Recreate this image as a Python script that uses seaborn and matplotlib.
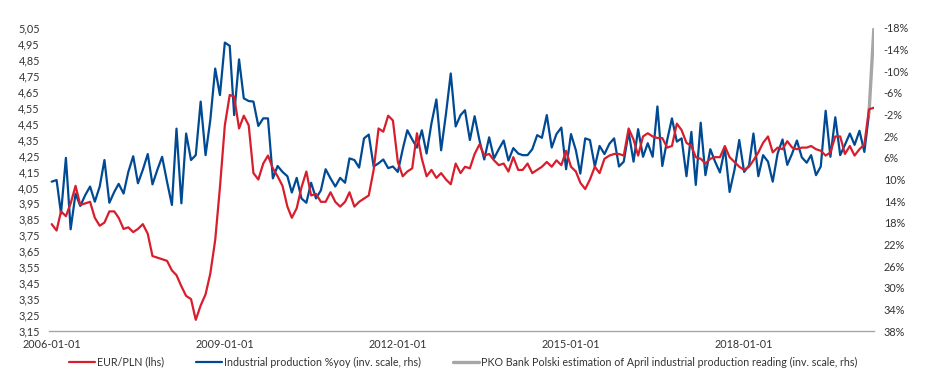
import numpy as np
import pandas as pd
import matplotlib
matplotlib.use("Agg")
import matplotlib.pyplot as plt
import matplotlib.ticker as mticker
import matplotlib.dates as mdates
import seaborn as sns

# EUR/PLN, monthly, 2006-01 .. 2020-04 (lhs)
eurpln = [
    3.82, 3.78, 3.90, 3.87, 3.95, 4.06, 3.94, 3.95, 3.96, 3.86, 3.81, 3.83,
    3.90, 3.90, 3.86, 3.79, 3.80, 3.77, 3.79, 3.82, 3.76, 3.62, 3.61, 3.60,
    3.59, 3.53, 3.50, 3.43, 3.37, 3.35, 3.22, 3.31, 3.38, 3.51, 3.72, 4.05,
    4.44, 4.63, 4.62, 4.42, 4.50, 4.44, 4.14, 4.10, 4.20, 4.25, 4.17, 4.12,
    4.06, 3.93, 3.86, 3.92, 4.05, 4.15, 4.00, 4.01, 3.96, 3.96, 4.02, 3.96,
    3.93, 3.96, 4.02, 3.93, 3.96, 3.98, 4.00, 4.16, 4.42, 4.40, 4.50, 4.47,
    4.21, 4.12, 4.15, 4.17, 4.39, 4.23, 4.12, 4.16, 4.11, 4.14, 4.10, 4.07,
    4.20, 4.14, 4.18, 4.17, 4.26, 4.32, 4.25, 4.26, 4.22, 4.19, 4.20, 4.15,
    4.24, 4.16, 4.16, 4.20, 4.14, 4.16, 4.18, 4.21, 4.18, 4.22, 4.19, 4.28,
    4.18, 4.15, 4.08, 4.04, 4.10, 4.18, 4.14, 4.23, 4.25, 4.26, 4.26, 4.25,
    4.42, 4.35, 4.25, 4.37, 4.39, 4.37, 4.36, 4.36, 4.30, 4.31, 4.45, 4.41,
    4.33, 4.31, 4.24, 4.23, 4.20, 4.23, 4.24, 4.24, 4.31, 4.24, 4.21, 4.18,
    4.16, 4.18, 4.22, 4.27, 4.33, 4.37, 4.27, 4.30, 4.29, 4.34, 4.30, 4.29,
    4.30, 4.30, 4.31, 4.29, 4.28, 4.25, 4.27, 4.37, 4.37, 4.26, 4.31, 4.25,
    4.29, 4.32, 4.54, 4.55,
]

# Industrial production %yoy, 2006-01 .. 2020-03 (rhs, inverted)
ip_yoy = [
    10.4, 10.1, 16.3, 6.0, 19.2, 12.6, 14.9, 12.9, 11.3, 14.1, 11.3, 6.4,
    14.3, 12.3, 10.8, 12.6, 8.6, 5.7, 10.7, 8.2, 5.3, 10.9, 8.2, 5.8,
    10.4, 14.7, 0.6, 14.4, 1.5, 6.4, 5.5, -4.4, 5.5, -1.0, -10.5, -5.6,
    -15.3, -14.7, -1.9, -12.2, -5.0, -4.5, -4.4, 0.1, -1.3, -1.3, 9.8, 7.5,
    8.6, 9.4, 12.4, 9.7, 13.5, 14.3, 10.6, 13.5, 12.0, 8.1, 9.8, 11.3,
    9.7, 10.6, 6.1, 6.4, 7.8, 2.4, 1.7, 7.6, 7.0, 6.3, 7.9, 7.6,
    8.6, 4.4, 0.9, 2.6, 4.1, 0.9, 5.2, -0.4, -4.8, 4.6, -2.2, -9.6,
    0.2, -1.9, -2.8, 2.7, -1.7, 2.8, 6.3, 2.2, 6.1, 4.4, 2.8, 6.5,
    4.2, 5.2, 5.5, 5.5, 4.4, 1.8, 2.3, -1.9, 4.1, 1.6, 0.4, 8.1,
    1.6, 4.6, 8.9, 2.4, 2.7, 7.6, 3.8, 5.3, 3.4, 2.4, 7.6, 6.7,
    1.2, 6.7, 0.7, 5.8, 3.3, 5.8, -3.5, 7.5, 2.7, -1.3, 3.0, 2.4,
    9.4, 1.2, 11.0, -0.5, 9.2, 4.4, 6.7, 8.7, 4.2, 12.3, 8.2, 2.7,
    8.6, 7.4, 1.5, 9.4, 5.5, 6.7, 10.4, 5.2, 2.6, 7.3, 5.2, 2.8,
    5.9, 6.9, 5.5, 9.2, 7.6, -2.7, 5.8, -1.5, 5.5, 3.6, 1.5, 3.6,
    1.0, 4.9, -2.1,
]

# PKO BP estimate for April 2020 (starts from the March reading)
est_dates = ["2020-03-01", "2020-04-01"]
est_values = [-2.1, -17.8]

left_ticks = np.round(np.arange(3.15, 5.06, 0.10), 2)
right_ticks = list(range(-18, 39, 4))
x_ticks = ["2006-01-01", "2009-01-01", "2012-01-01", "2015-01-01", "2018-01-01"]

RED = "#d81e2c"
BLUE = "#004a93"
GREY = "#a6a6a6"
TXT = "#333333"

sns.set_style("white")
plt.rcParams["font.family"] = ["Lato", "DejaVu Sans"]
plt.rcParams["text.color"] = TXT

fx = pd.DataFrame({"date": pd.date_range("2006-01-01", periods=len(eurpln), freq="MS"),
                   "eurpln": eurpln})
ip = pd.DataFrame({"date": pd.date_range("2006-01-01", periods=len(ip_yoy), freq="MS"),
                   "ip": ip_yoy})
est = pd.DataFrame({"date": pd.to_datetime(est_dates), "ip": est_values})

fig = plt.figure(figsize=(9.26, 3.76), dpi=100)
ax = fig.add_axes([49 / 926, 1 - 331 / 376, 825 / 926, 303 / 376])
ax2 = ax.twinx()

sns.lineplot(data=fx, x="date", y="eurpln", ax=ax, color=RED, lw=1.6,
             label="EUR/PLN (lhs)", legend=False)
sns.lineplot(data=ip, x="date", y="ip", ax=ax2, color=BLUE, lw=1.6,
             label="Industrial production %yoy (inv. scale, rhs)", legend=False)
sns.lineplot(data=est, x="date", y="ip", ax=ax2, color=GREY, lw=2.4,
             label="PKO Bank Polski estimation of April industrial production reading (inv. scale, rhs)",
             legend=False)
ax.set_zorder(ax2.get_zorder() + 1)
ax.patch.set_visible(False)

ax.set_ylim(3.15, 5.05)
ax.set_yticks(left_ticks)
ax.yaxis.set_major_formatter(mticker.FuncFormatter(lambda v, p: f"{v:.2f}".replace(".", ",")))
ax2.set_ylim(38, -18)
ax2.set_yticks(right_ticks)
ax2.yaxis.set_major_formatter(mticker.FuncFormatter(lambda v, p: f"{int(round(v))}%"))

ax.set_xlim(pd.Timestamp("2005-12-15"), pd.Timestamp("2020-04-02"))
ax.set_xticks(pd.to_datetime(x_ticks))
ax.xaxis.set_major_formatter(mdates.DateFormatter("%Y-%m-%d"))

for a in (ax, ax2):
    a.set_xlabel("")
    a.set_ylabel("")
    for s in ("left", "right", "top", "bottom"):
        a.spines[s].set_visible(False)
ax.spines["bottom"].set_visible(True)
ax.spines["bottom"].set_color(GREY)
ax.spines["bottom"].set_linewidth(1.0)

ax.tick_params(axis="y", length=0, pad=6.5, labelsize=7.8, labelcolor=TXT)
ax2.tick_params(axis="y", length=0, pad=7, labelsize=7.8, labelcolor=TXT)
ax.tick_params(axis="x", length=2.5, width=0.8, color=GREY, pad=3, labelsize=7.8, labelcolor=TXT)

handles = ax.get_lines() + ax2.get_lines()
fig.legend(handles=handles, labels=[h.get_label() for h in handles], loc="center",
           bbox_to_anchor=(0.5, 1 - 362 / 376), ncol=3, frameon=False, fontsize=7.7,
           handlelength=2.4, handletextpad=0.2, columnspacing=3.0)

fig.savefig("out.png", dpi=100)
